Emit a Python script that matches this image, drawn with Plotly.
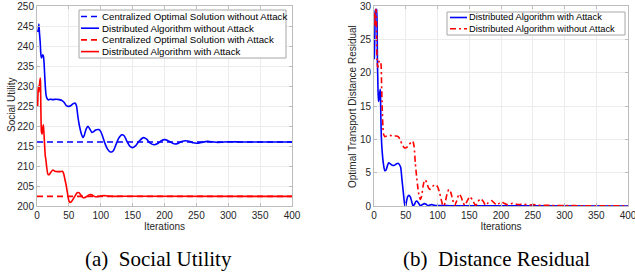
import plotly.graph_objects as go

# ---------------- data ----------------
# (a) Social Utility
opt_wo_value = 216.0
opt_w_value = 202.4

dist_wo_x = [1, 2, 3, 4, 5, 6, 7, 8, 9, 10, 11, 12, 13, 14, 15, 16, 18, 20, 25, 30, 35, 40, 43, 46, 50,
             54, 57, 60, 62, 64, 66, 68, 70, 72, 74, 77, 80, 83, 86, 89, 92, 97, 100, 103, 106, 110,
             114, 117, 120, 124, 128, 133, 137, 141, 146, 150, 155, 160, 167, 172, 177, 184, 190, 195,
             200, 205, 210, 216, 222, 227, 233, 240, 245, 251, 258, 267, 275, 283, 290, 300, 320, 350, 400]
dist_wo_y = [243.5, 244, 245.5, 243, 241, 238, 237, 237.5, 237.8, 237.5, 236, 233, 230, 228, 227.2, 226.8,
             226.5, 226.7, 226.6, 226.7, 226.6, 226.3, 225.8, 225.1, 224.9, 225.2, 225.6, 225.7, 225,
             222.5, 220.5, 219, 217.8, 217.1, 217.6, 219.2, 219.9, 219.2, 218.4, 218.6, 219, 219.1, 218.6,
             217.4, 215.9, 214.4, 213.6, 213.5, 213.9, 215.4, 216.9, 217.8, 217.5, 216.2, 214.9, 214.6,
             215.1, 216.2, 217.1, 216.7, 215.8, 215.3, 215.7, 216.3, 216.6, 216.4, 215.9, 215.5, 215.7,
             216.1, 216.3, 216.1, 215.8, 215.7, 215.9, 216.15, 216.05, 215.9, 215.95, 216.05, 216, 216, 216]

dist_w_x = [1, 1.5, 2, 2.5, 3, 4, 5, 5.5, 6, 7, 8, 9, 10, 11, 12, 13, 14, 15, 17, 19, 22, 25, 28, 32, 36,
            40, 42, 44, 46, 48, 50, 52, 54, 57, 60, 63, 66, 69, 72, 75, 78, 82, 86, 90, 95, 100, 105,
            110, 120, 140, 400]
dist_w_y = [224.8, 228, 230, 229, 228.5, 230.5, 232, 231, 225, 218.5, 218, 219.5, 220.3, 218, 215, 212.5,
            211.5, 210, 208, 207.8, 208.5, 209, 208.7, 208.6, 208.6, 208.7, 208, 206.5, 205, 203, 201.3,
            200.9, 201.1, 201.8, 202.6, 203.3, 203.3, 202.7, 202.1, 202.1, 202.4, 202.8, 202.8, 202.4,
            202.3, 202.5, 202.6, 202.5, 202.4, 202.45, 202.4]

opt_x = [0, 400]

# (b) Distance Residual
res_w_x = [0.5, 1, 1.5, 2, 3, 4, 4.5, 5, 5.5, 6, 7, 8, 9, 10, 10.5, 11.5, 13, 15, 17, 19, 21, 23, 26, 29,
           32, 35, 38, 40, 42, 44, 46, 48, 49, 50, 51, 53, 55, 57, 59, 61, 62, 64, 66, 68, 71, 73, 76, 79,
           82, 85, 88, 91, 95, 100, 110, 120, 150, 400]
res_w_y = [22, 24, 26.5, 29.3, 29.5, 29, 29.5, 26, 21, 19, 15.7, 16, 17, 17.5, 15, 10.5, 8, 6.2, 5.3, 5.4,
           6, 6.5, 6.3, 6.1, 6.1, 6.3, 6.4, 6.2, 5.8, 4, 2.2, 0.4, 0, 0, 0.6, 1.4, 1.6, 1.4, 0.8, 0.1, 0,
           0.3, 0.7, 0.7, 0.3, 0.05, 0.2, 0.35, 0.25, 0.05, 0.15, 0.2, 0.1, 0.05, 0.08, 0.03, 0.02, 0]

res_wo_x = [0.5, 1, 1.5, 2, 3, 3.5, 4, 5, 6, 7, 8, 9, 10, 11, 12, 13, 14, 15, 17, 20, 25, 30, 35, 38, 41,
            44, 47, 50, 53, 56, 59, 61, 63, 65, 67, 69, 71, 73, 75, 77, 79, 81, 83, 86, 88, 91, 94, 97,
            100, 103, 106, 108, 110, 112, 115, 118, 121, 124, 127, 130, 134, 137, 140, 143, 147, 151,
            155, 160, 164, 168, 172, 176, 180, 185, 189, 193, 197, 201, 205, 210, 214, 218, 223, 227,
            231, 235, 240, 245, 250, 255, 260, 270, 280, 300, 330, 360, 400]
res_wo_y = [29, 28, 27, 28.5, 29.5, 29, 26, 21.5, 20.8, 21.3, 21.7, 21.5, 21.6, 21.3, 18, 14.5, 12, 10.8,
            10.4, 10.5, 10.6, 10.5, 10.5, 10.4, 10, 9.3, 8.8, 8.7, 8.9, 9.3, 9.6, 9.7, 9, 6.5, 4.5, 2.8,
            1.5, 1, 1.5, 2.8, 3.7, 3.9, 3.5, 2.7, 2.5, 2.8, 3.1, 3.2, 2.9, 2.1, 0.9, 0.2, 0, 0.5, 1.8,
            2.5, 2, 0.9, 0.1, 0.7, 1.8, 1.4, 0.6, 0.1, 0.8, 1.4, 0.9, 0.1, 0.7, 1.1, 0.7, 0.1, 0.5, 0.8,
            0.5, 0.15, 0.4, 0.6, 0.4, 0.2, 0.3, 0.4, 0.3, 0.2, 0.25, 0.3, 0.2, 0.15, 0.2, 0.18, 0.12,
            0.12, 0.08, 0.06, 0.04, 0.02, 0.01]

x_ticks = [0, 50, 100, 150, 200, 250, 300, 350, 400]
left_y_ticks = [200, 205, 210, 215, 220, 225, 230, 235, 240, 245, 250]
right_y_ticks = [0, 5, 10, 15, 20, 25, 30]

left_legend_names = ["Centralized Optimal Solution without Attack",
                     "Distributed Algorithm without Attack",
                     "Centralized Optimal Solution with Attack",
                     "Distributed Algorithm with Attack"]
right_legend_names = ["Distributed Algorithm with Attack",
                      "Distributed Algorithm without Attack"]

# ---------------- figure ----------------
W, H = 635, 276
BLUE = "#0000ff"
RED = "#ff0000"
LW = 1.6
DASH = "6px,4px"
DASHDOT = "6px,3px,2px,3px"

left_styles = [(BLUE, DASH), (BLUE, "solid"), (RED, DASH), (RED, "solid")]
right_styles = [(BLUE, "solid"), (RED, DASHDOT)]

fig = go.Figure()

fig.add_trace(go.Scatter(x=opt_x, y=[opt_wo_value] * 2, mode="lines",
                         line=dict(color=BLUE, width=LW, dash=DASH),
                         name=left_legend_names[0], xaxis="x", yaxis="y"))
fig.add_trace(go.Scatter(x=dist_wo_x, y=dist_wo_y, mode="lines",
                         line=dict(color=BLUE, width=LW, shape="spline", smoothing=0.6),
                         name=left_legend_names[1], xaxis="x", yaxis="y"))
fig.add_trace(go.Scatter(x=opt_x, y=[opt_w_value] * 2, mode="lines",
                         line=dict(color=RED, width=LW, dash=DASH),
                         name=left_legend_names[2], xaxis="x", yaxis="y"))
fig.add_trace(go.Scatter(x=dist_w_x, y=dist_w_y, mode="lines",
                         line=dict(color=RED, width=LW, shape="spline", smoothing=0.6),
                         name=left_legend_names[3], xaxis="x", yaxis="y"))

fig.add_trace(go.Scatter(x=res_w_x, y=res_w_y, mode="lines",
                         line=dict(color=BLUE, width=LW, shape="spline", smoothing=0.6),
                         name=right_legend_names[0], xaxis="x2", yaxis="y2"))
fig.add_trace(go.Scatter(x=res_wo_x, y=res_wo_y, mode="lines",
                         line=dict(color=RED, width=LW, dash=DASHDOT, shape="spline", smoothing=0.6),
                         name=right_legend_names[1], xaxis="x2", yaxis="y2"))

AX_FONT = dict(family="Liberation Sans, Arial, sans-serif", size=10, color="#262626")
common = dict(showline=True, linecolor="#bdbdbd", linewidth=1, mirror="ticks",
              ticks="inside", ticklen=3, tickcolor="#bdbdbd",
              showgrid=True, gridcolor="#ececec", gridwidth=1,
              zeroline=False, tickfont=AX_FONT, automargin=False,
              ticklabeloverflow="allow")

ybot = 1 - 206 / H
ytop = 1 - 6 / H

fig.update_layout(
    width=W, height=H,
    margin=dict(l=0, r=0, t=0, b=0),
    paper_bgcolor="white", plot_bgcolor="white",
    showlegend=False,
    xaxis=dict(domain=[37 / W, 292 / W], range=[0, 400], tickvals=x_ticks, anchor="y",
               title=dict(text="Iterations", font=AX_FONT, standoff=2), **common),
    yaxis=dict(domain=[ybot, ytop], range=[200, 250], tickvals=left_y_ticks, anchor="x", **common),
    xaxis2=dict(domain=[374 / W, 628 / W], range=[0, 400], tickvals=x_ticks, anchor="y2",
                title=dict(text="Iterations", font=AX_FONT, standoff=2), **common),
    yaxis2=dict(domain=[ybot, ytop], range=[0, 30], tickvals=right_y_ticks, anchor="x2", **common),
)


def px(x):
    return x / W


def py(y):
    return 1 - y / H


# y-axis titles
fig.add_annotation(text="Social Utility", x=px(11), y=py(105), xref="paper", yref="paper",
                   textangle=-90, showarrow=False, font=AX_FONT, xanchor="center", yanchor="middle")
fig.add_annotation(text="Optimal Transport Distance Residual", x=px(353), y=py(107), xref="paper",
                   yref="paper", textangle=-90, showarrow=False, font=AX_FONT,
                   xanchor="center", yanchor="middle")


# ---- legends (drawn as boxes + sample lines + real text) ----
def draw_legend(box, rows_y, line_x0, line_x1, text_x, names, styles, fsize):
    font = dict(family="Liberation Sans, Arial, sans-serif", size=fsize, color="#000000")
    x0, y0, x1, y1 = box
    fig.add_shape(type="rect", xref="paper", yref="paper", x0=px(x0), x1=px(x1), y0=py(y1), y1=py(y0),
                  line=dict(color="#a6a6a6", width=1), fillcolor="white", layer="above")
    for ry, name, (col, dash) in zip(rows_y, names, styles):
        fig.add_shape(type="line", xref="paper", yref="paper", x0=px(line_x0), x1=px(line_x1),
                      y0=py(ry), y1=py(ry), line=dict(color=col, width=LW, dash=dash), layer="above")
        fig.add_annotation(text=name, x=px(text_x), y=py(ry), xref="paper", yref="paper",
                           showarrow=False, font=font, xanchor="left", yanchor="middle",
                           borderpad=0)


draw_legend((79, 10, 286, 58), [16.5, 28.2, 39.9, 51.6], 81, 99, 100.5,
            left_legend_names, left_styles, 9.7)
draw_legend((447, 12, 625, 35), [17.5, 28.7], 450, 467, 468,
            right_legend_names, right_styles, 9.3)

CAP_FONT = dict(family="Liberation Serif, Times New Roman, serif", size=21, color="#000000")
fig.add_annotation(text="(a)  Social Utility", x=158.5 / W, y=py(259), xref="paper", yref="paper",
                   showarrow=False, font=CAP_FONT, xanchor="center", yanchor="middle")
fig.add_annotation(text="(b)  Distance Residual", x=496 / W, y=py(259), xref="paper", yref="paper",
                   showarrow=False, font=CAP_FONT, xanchor="center", yanchor="middle")

fig.write_html("out.html", config={"displayModeBar": False},
               post_script="document.body.style.margin='0';document.body.style.overflow='hidden';")
